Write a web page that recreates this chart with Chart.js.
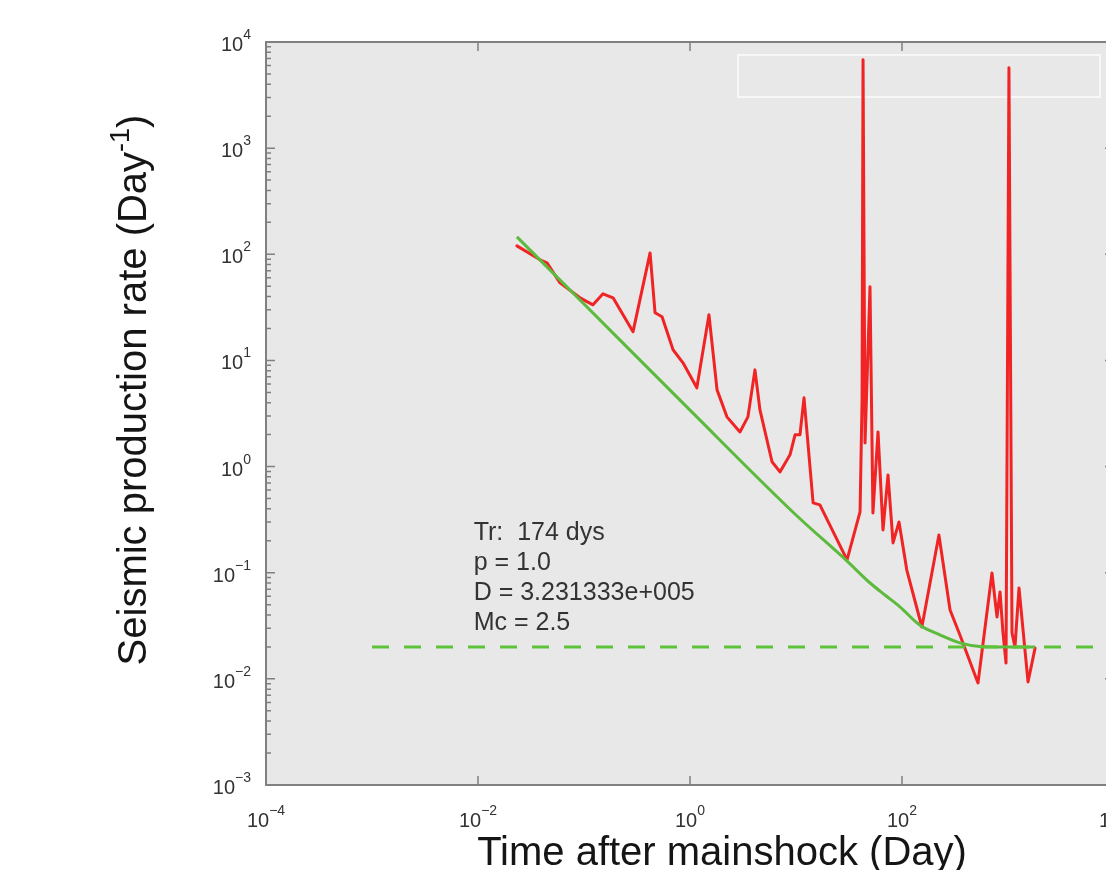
<!DOCTYPE html>
<html>
<head>
<meta charset="utf-8">
<title>Seismic production rate</title>
<script src="https://cdn.jsdelivr.net/npm/chart.js@4.4.1/dist/chart.umd.min.js"></script>
<style>
  html, body { margin: 0; padding: 0; background: #fff; overflow: hidden; }
  #wrap { width: 1180px; height: 870px; }
</style>
</head>
<body>
<div id="wrap"><canvas id="rateChart" width="1180" height="870"></canvas></div>
<script>
// observed rate (red)
const obsDays = [0.0233, 0.0385, 0.0448, 0.0594, 0.0917, 0.1216, 0.151, 0.188, 0.29, 0.42,
  0.468, 0.545, 0.692, 0.859, 1.16, 1.51, 1.8, 2.23, 2.96, 3.52,
  4.1, 4.57, 5.94, 7.06, 8.78, 9.79, 10.9, 11.9, 14.5, 16.8,
  30.3, 40.2, 42.0, 42.9, 44.8, 49.9, 53.2, 59.4, 66.2, 73.8,
  82.3, 93.7, 111, 154, 223, 284, 352, 521, 706, 787,
  841, 897, 958, 1021, 1091, 1164, 1270, 1545, 1800];
const obsRate = [120, 88.7, 83, 53.8, 38.9, 33.4, 42.4, 38.9, 18.6, 103,
  28.1, 25.8, 12.6, 9.5, 5.52, 26.9, 5.28, 2.94, 2.12, 2.94,
  8.15, 3.42, 1.11, 0.89, 1.29, 1.99, 1.99, 4.44, 0.455, 0.436,
  0.132, 0.374, 4.26, 6800, 1.67, 49.4, 0.366, 2.12, 0.253, 0.835,
  0.191, 0.301, 0.106, 0.0308, 0.227, 0.0446, 0.0259, 0.00915, 0.0995, 0.0383,
  0.0659, 0.0271, 0.0141, 5730, 0.0271, 0.02, 0.0719, 0.00935, 0.0195];

// fitted rate (green)
const fitDays = [0.0233, 0.1, 1, 10, 30, 50, 70, 95, 148, 228, 352, 545, 1000, 1800];
const fitRate = [146, 34, 3.4, 0.35, 0.13, 0.08, 0.061, 0.048, 0.032, 0.026, 0.0218, 0.0202, 0.02, 0.02];

// background rate (dashed green)
const bgDays = [0.001, 10000];
const bgRate = [0.02, 0.02];

const xTickValues = [1e-4, 1e-2, 1e0, 1e2, 1e4];
const yTickValues = [1e-3, 1e-2, 1e-1, 1e0, 1e1, 1e2, 1e3, 1e4];

const infoLines = ['Tr:  174 dys', 'p = 1.0', 'D = 3.231333e+005', 'Mc = 2.5'];
const xTitle = 'Time after mainshock (Day)';
const yTitle = ['Seismic production rate (Day', '-1', ')'];

const FONT = '"Liberation Sans", Arial, Helvetica, sans-serif';

function toPoints(xs, ys) {
  return xs.map((x, i) => ({ x: x, y: ys[i] }));
}

// "10" with a raised exponent; align is where x sits: 'right' or 'center'
function drawPower(ctx, v, x, y, align) {
  const e = String(Math.round(Math.log10(v))).replace('-', '\u2212');
  ctx.font = '20px ' + FONT;
  const wBase = ctx.measureText('10').width;
  ctx.font = '14px ' + FONT;
  const wExp = ctx.measureText(e).width;
  const total = wBase + wExp;
  const x0 = align === 'right' ? x - total : x - total / 2;
  ctx.textAlign = 'left';
  ctx.textBaseline = 'alphabetic';
  ctx.font = '20px ' + FONT;
  ctx.fillText('10', x0, y);
  ctx.font = '14px ' + FONT;
  ctx.fillText(e, x0 + wBase, y - 12);
}

// background, frame, inward ticks, empty legend box, labels
const framePlugin = {
  id: 'frame',
  beforeDraw(chart) {
    const { ctx, chartArea: a } = chart;
    ctx.save();
    ctx.fillStyle = '#e8e8e8';
    ctx.fillRect(a.left, a.top, a.right - a.left, a.bottom - a.top);
    ctx.restore();
  },
  beforeDatasetsDraw(chart) {
    const { ctx, chartArea: a, scales } = chart;
    ctx.save();
    ctx.strokeStyle = '#808080';
    ctx.lineWidth = 1.5;
    ctx.beginPath();
    yTickValues.forEach((v, i) => {
      for (let m = 1; m <= 9; m++) {
        if (m > 1 && i === yTickValues.length - 1) break;
        const py = scales.y.getPixelForValue(v * m);
        const len = m === 1 ? 9 : 5;
        ctx.moveTo(a.left, py); ctx.lineTo(a.left + len, py);
        ctx.moveTo(a.right, py); ctx.lineTo(a.right - len, py);
      }
    });
    xTickValues.forEach(v => {
      const px = scales.x.getPixelForValue(v);
      ctx.moveTo(px, a.bottom); ctx.lineTo(px, a.bottom - 9);
      ctx.moveTo(px, a.top); ctx.lineTo(px, a.top + 9);
    });
    ctx.stroke();
    ctx.lineWidth = 2;
    ctx.strokeRect(a.left, a.top, a.right - a.left, a.bottom - a.top);
    // empty legend box
    ctx.strokeStyle = '#f7f7f7';
    ctx.lineWidth = 2;
    ctx.strokeRect(a.right - 376, a.top + 13, 362, 42);
    ctx.restore();
  },
  afterDraw(chart) {
    const { ctx, chartArea: a, scales } = chart;
    ctx.save();
    // tick labels
    ctx.fillStyle = '#333';
    yTickValues.forEach(v => drawPower(ctx, v, a.left - 15, scales.y.getPixelForValue(v) + 9, 'right'));
    xTickValues.forEach(v => drawPower(ctx, v, scales.x.getPixelForValue(v), a.bottom + 42, 'center'));

    // fit parameters
    ctx.font = '25px ' + FONT;
    ctx.textAlign = 'left';
    ctx.textBaseline = 'middle';
    const tx = scales.x.getPixelForValue(0.0091);
    const ty = scales.y.getPixelForValue(0.238);
    infoLines.forEach((s, i) => ctx.fillText(s, tx, ty + i * 30));

    // axis titles
    ctx.fillStyle = '#151515';
    ctx.textBaseline = 'alphabetic';
    ctx.textAlign = 'center';
    ctx.font = '40px ' + FONT;
    ctx.fillText(xTitle, (a.left + a.right) / 2 + 32, a.bottom + 80);

    ctx.translate(a.left - 120, a.top + 348);
    ctx.rotate(-Math.PI / 2);
    ctx.font = '40px ' + FONT;
    const w0 = ctx.measureText(yTitle[0]).width;
    const w2 = ctx.measureText(yTitle[2]).width;
    ctx.font = '27px ' + FONT;
    const w1 = ctx.measureText(yTitle[1]).width;
    let x = -(w0 + w1 + w2) / 2;
    ctx.textAlign = 'left';
    ctx.font = '40px ' + FONT;
    ctx.fillText(yTitle[0], x, 0);
    x += w0;
    ctx.font = '27px ' + FONT;
    ctx.fillText(yTitle[1], x, -17);
    x += w1;
    ctx.font = '40px ' + FONT;
    ctx.fillText(yTitle[2], x, 0);
    ctx.restore();
  }
};

new Chart(document.getElementById('rateChart'), {
  type: 'line',
  data: {
    datasets: [
      {
        label: 'background',
        data: toPoints(bgDays, bgRate),
        borderColor: '#5fc33a',
        borderWidth: 3,
        borderDash: [17, 15],
        pointRadius: 0,
        fill: false
      },
      {
        label: 'fit',
        data: toPoints(fitDays, fitRate),
        borderColor: '#5cba3c',
        borderWidth: 3,
        pointRadius: 0,
        cubicInterpolationMode: 'monotone',
        fill: false
      },
      {
        label: 'observed',
        data: toPoints(obsDays, obsRate),
        borderColor: '#f02424',
        borderWidth: 3,
        borderJoinStyle: 'round',
        borderCapStyle: 'round',
        pointRadius: 0,
        tension: 0,
        fill: false
      }
    ]
  },
  options: {
    responsive: false,
    animation: false,
    devicePixelRatio: 1,
    layout: { padding: { left: 200, top: 42, right: 66, bottom: 0 } },
    plugins: {
      legend: { display: false },
      tooltip: { enabled: false }
    },
    scales: {
      x: {
        type: 'logarithmic',
        min: 1e-4,
        max: 1e4,
        afterBuildTicks: s => { s.ticks = xTickValues.map(v => ({ value: v })); },
        afterFit: s => { s.height = 85; },
        grid: { display: false, drawTicks: false },
        border: { display: false },
        ticks: { display: false }
      },
      y: {
        type: 'logarithmic',
        min: 1e-3,
        max: 1e4,
        afterBuildTicks: s => { s.ticks = yTickValues.map(v => ({ value: v })); },
        afterFit: s => { s.width = 66; },
        grid: { display: false, drawTicks: false },
        border: { display: false },
        ticks: { display: false }
      }
    }
  },
  plugins: [framePlugin]
});
</script>
</body>
</html>
